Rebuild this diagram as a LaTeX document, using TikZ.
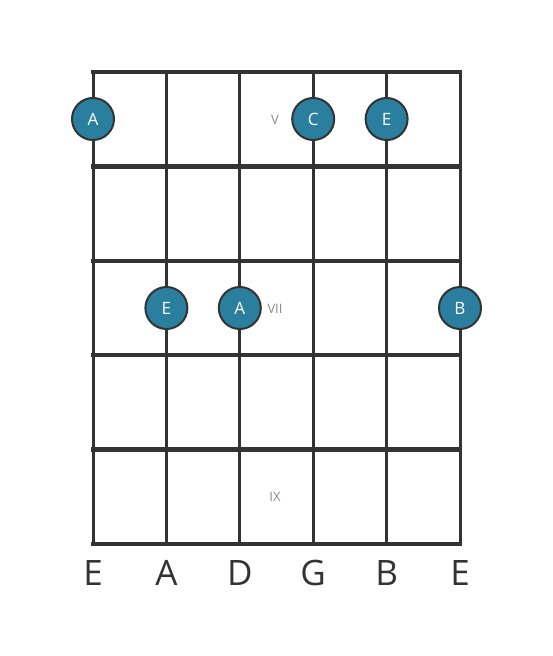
\documentclass[tikz,border=0pt]{standalone}
\usepackage{fontspec}
\setmainfont{Open Sans}
\definecolor{dotfill}{HTML}{2A7F9E}
\definecolor{gridline}{HTML}{333333}
\definecolor{fretnum}{HTML}{8A8A8A}
\tikzset{
	notedot/.style={circle, draw=gridline, line width=2pt, fill=dotfill, minimum size=42pt, inner sep=0pt, text=white, font=\fontsize{17}{17}\selectfont},
	fretlabel/.style={text=fretnum, font=\fontsize{13}{13}\selectfont},
	stringname/.style={text=gridline, font=\fontsize{35}{35}\selectfont}
}
\begin{document}
\begin{tikzpicture}[x=1pt,y=-1pt]
		\useasboundingbox (0,0) rectangle (553,656);

		\foreach \x in {93,166.4,239.8,313.2,386.6,460}
		{
			\draw[gridline, line width=3pt] (\x,72) -- (\x,544);
		}
		\foreach \y in {72,166.4,260.8,355.2,449.6,544}
		{
			\draw[gridline, line width=4.5pt] (91,\y) -- (462,\y);
		}

		\node[fretlabel] (fretV) at (275,120) {V};
		\node[fretlabel] (fretVII) at (275,309) {VII};
		\node[fretlabel] (fretIX) at (275,497) {IX};

		\node[notedot] (dotA1) at (93,119) {A};
		\node[notedot] (dotC) at (313.2,119) {C};
		\node[notedot] (dotE1) at (386.6,119) {E};
		\node[notedot] (dotE2) at (166.4,308) {E};
		\node[notedot] (dotA2) at (239.8,308) {A};
		\node[notedot] (dotB) at (460,308) {B};

		\foreach \x/\s in {93/E,166.4/A,239.8/D,313.2/G,386.6/B,460/E}
		{
			\node[stringname] at (\x,573) {\s};
		}
	\end{tikzpicture}
\end{document}
